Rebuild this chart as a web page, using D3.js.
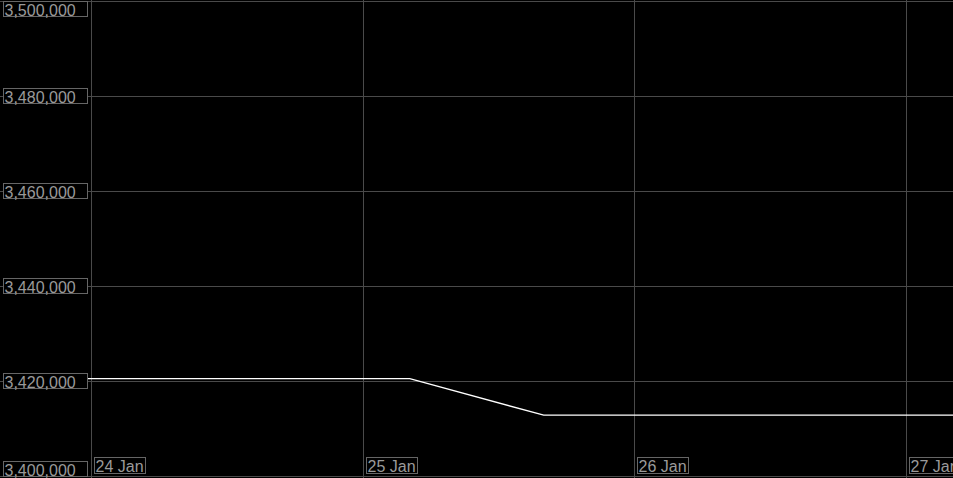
<!DOCTYPE html>
<html>
<head>
<meta charset="utf-8">
<script src="https://cdn.jsdelivr.net/npm/d3@7"></script>
<style>
  html, body { margin: 0; padding: 0; background: #000; }
  svg { display: block; }
  .lbl text { font-family: "Liberation Sans", Arial, sans-serif; font-size: 16px; fill: #9a9a9a; }
  .lbl rect { fill: #000; stroke: #666; stroke-width: 1; }
</style>
</head>
<body>
<script>
const width = 953,
      height = 478;

// data
const times = ["2024-01-23T20:00", "2024-01-25T04:10", "2024-01-25T16:00", "2024-01-27T04:10"];
const values = [3420500, 3420500, 3412800, 3412800];
const yTicks = [3400000, 3420000, 3440000, 3460000, 3480000, 3500000];
const xTicks = ["2024-01-24", "2024-01-25", "2024-01-26", "2024-01-27"];

const parse = d3.timeParse("%Y-%m-%dT%H:%M");
const parseDay = d3.timeParse("%Y-%m-%d");

const points = times.map((t, i) => ({ date: parse(t), value: values[i] }));

const plotLeft = 91, plotRight = 953, plotTop = 1, plotBottom = 476;

const x = d3.scaleTime()
    .domain([parseDay("2024-01-24"), parse("2024-01-27T04:10")])
    .range([plotLeft, plotRight]);

const y = d3.scaleLinear()
    .domain([3400000, 3500000])
    .range([plotBottom, plotTop]);

const svg = d3.select("body")
    .append("svg")
    .attr("width", width)
    .attr("height", height);

svg.append("rect")
    .attr("width", width)
    .attr("height", height)
    .attr("fill", "#000");

// grid
svg.append("g")
    .selectAll("line")
    .data(yTicks)
    .enter().append("line")
    .attr("x1", 0)
    .attr("x2", width)
    .attr("y1", d => Math.round(y(d)) + 0.5)
    .attr("y2", d => Math.round(y(d)) + 0.5)
    .attr("stroke", "#4a4a4a");

svg.append("g")
    .selectAll("line")
    .data(xTicks.map(parseDay))
    .enter().append("line")
    .attr("x1", d => Math.round(x(d)) + 0.5)
    .attr("x2", d => Math.round(x(d)) + 0.5)
    .attr("y1", 0)
    .attr("y2", height)
    .attr("stroke", "#4a4a4a");

svg.append("defs").append("clipPath")
    .attr("id", "clip")
    .append("rect")
    .attr("x", 0).attr("y", 0)
    .attr("width", width).attr("height", height);

const line = d3.line()
    .x(d => x(d.date))
    .y(d => y(d.value));

svg.append("path")
    .datum(points)
    .attr("clip-path", "url(#clip)")
    .attr("fill", "none")
    .attr("stroke", "#fff")
    .attr("stroke-width", 1.3)
    .attr("d", line);

// y labels, boxed, kept inside the view
const yl = svg.append("g").attr("class", "lbl")
    .selectAll("g")
    .data(yTicks)
    .enter().append("g")
    .attr("transform", d => {
      let cy = Math.round(y(d)) - 7.5;
      cy = Math.max(1.5, Math.min(cy, height - 16.5));
      return `translate(3.5,${cy})`;
    });

yl.append("rect")
    .attr("width", 84)
    .attr("height", 15);

yl.append("text")
    .attr("x", 1)
    .attr("y", 14)
    .text(d3.format(","));

// x labels
const xl = svg.append("g").attr("class", "lbl")
    .selectAll("g")
    .data(xTicks.map(parseDay))
    .enter().append("g")
    .attr("transform", d => `translate(${Math.round(x(d)) + 3.5},457.5)`);

xl.append("text")
    .attr("x", 1)
    .attr("y", 14.5)
    .text(d3.timeFormat("%d %b"));

xl.each(function() {
  const t = d3.select(this).select("text").node().getBBox();
  d3.select(this).insert("rect", "text")
      .attr("width", Math.ceil(t.width) + 2)
      .attr("height", 16);
});
</script>
</body>
</html>
